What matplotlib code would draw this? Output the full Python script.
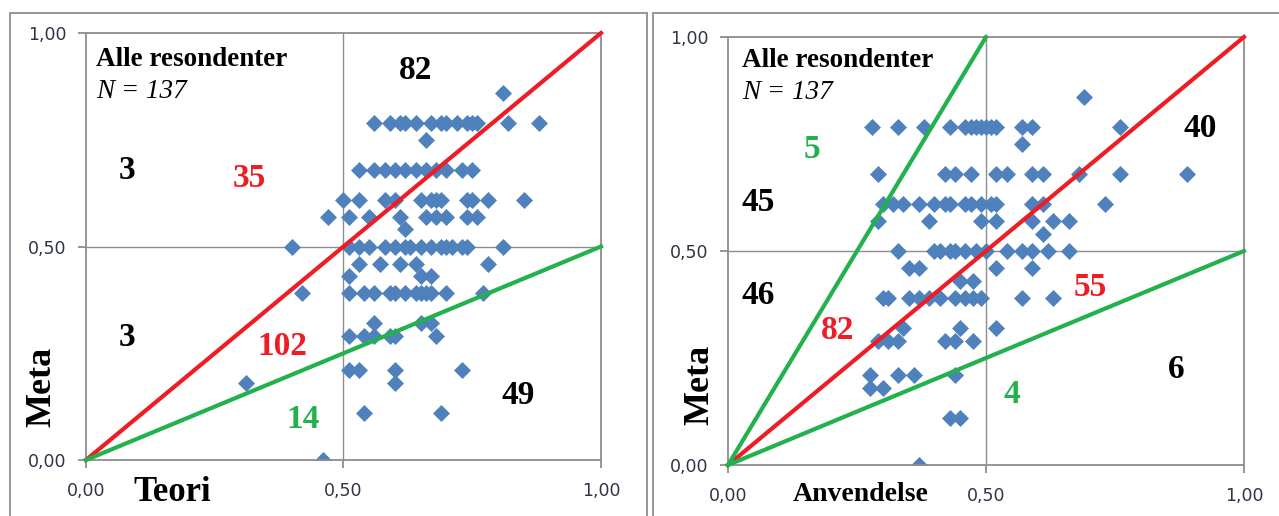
import matplotlib.pyplot as plt
from matplotlib.patches import Rectangle

# Teori mot Meta (venstre figur)
teori_x = [0.81,
           0.56, 0.59, 0.61, 0.62, 0.64, 0.67, 0.69, 0.70, 0.72, 0.74, 0.75, 0.76, 0.82, 0.88,
           0.66,
           0.53, 0.56, 0.58, 0.60, 0.62, 0.64, 0.66, 0.68, 0.70, 0.73, 0.75,
           0.50, 0.53, 0.58, 0.60, 0.65, 0.67, 0.68, 0.69, 0.74, 0.75, 0.78, 0.85,
           0.47, 0.51, 0.55, 0.61, 0.66, 0.68, 0.70, 0.74, 0.76,
           0.62,
           0.40, 0.51, 0.53, 0.55, 0.58, 0.60, 0.62, 0.63, 0.65, 0.67, 0.69, 0.70, 0.71, 0.73, 0.74, 0.81,
           0.53, 0.57, 0.61, 0.64, 0.78,
           0.51, 0.65, 0.67,
           0.42, 0.51, 0.54, 0.56, 0.59, 0.60, 0.62, 0.64, 0.65, 0.66, 0.67, 0.70, 0.77,
           0.56, 0.65, 0.67,
           0.51, 0.54, 0.56, 0.59, 0.60, 0.68,
           0.51, 0.53, 0.60, 0.73,
           0.31, 0.60,
           0.54, 0.69,
           0.46]
teori_y = ([0.86] + [0.79] * 14 + [0.75] + [0.68] * 11 + [0.61] * 12 + [0.57] * 9 + [0.54]
           + [0.50] * 16 + [0.46] * 5 + [0.43] * 3 + [0.39] * 13 + [0.32] * 3 + [0.29] * 6
           + [0.21] * 4 + [0.18] * 2 + [0.11] * 2 + [0.00])

# Anvendelse mot Meta (høyre figur)
anv_x = [0.69,
         0.28, 0.33, 0.38, 0.43, 0.46, 0.47, 0.48, 0.49, 0.50, 0.51, 0.52, 0.57, 0.59, 0.76,
         0.57,
         0.29, 0.42, 0.44, 0.47, 0.52, 0.54, 0.59, 0.61, 0.68, 0.76,
         0.30, 0.32, 0.34, 0.37, 0.40, 0.42, 0.43, 0.46, 0.47, 0.49, 0.51, 0.52, 0.59, 0.61, 0.73, 0.89,
         0.29, 0.39, 0.49, 0.52, 0.59, 0.63, 0.66,
         0.61,
         0.33, 0.40, 0.41, 0.43, 0.44, 0.46, 0.48, 0.50, 0.54, 0.57, 0.59, 0.62, 0.66,
         0.35, 0.37, 0.52, 0.59,
         0.45, 0.475,
         0.30, 0.31, 0.35, 0.37, 0.39, 0.41, 0.44, 0.46, 0.475, 0.49, 0.57, 0.63,
         0.34, 0.45, 0.52,
         0.29, 0.31, 0.33, 0.42, 0.44, 0.475,
         0.275, 0.33, 0.36, 0.44,
         0.275, 0.30,
         0.43, 0.45,
         0.37]
anv_y = ([0.86] + [0.79] * 14 + [0.75] + [0.68] * 10 + [0.61] * 15 + [0.68] + [0.57] * 7 + [0.54]
         + [0.50] * 13 + [0.46] * 4 + [0.43] * 2 + [0.39] * 12 + [0.32] * 3 + [0.29] * 6
         + [0.21] * 4 + [0.18] * 2 + [0.11] * 2 + [0.00])

# Antall i hvert felt
teori_tall = [('82', 0.639, 0.913, 'black'), ('3', 0.08, 0.679, 'black'), ('35', 0.318, 0.66, 'red'),
              ('3', 0.08, 0.286, 'black'), ('102', 0.381, 0.265, 'red'), ('14', 0.421, 0.094, 'green'),
              ('49', 0.839, 0.152, 'black')]
anv_tall = [('5', 0.163, 0.736, 'green'), ('45', 0.058, 0.614, 'black'), ('46', 0.058, 0.395, 'black'),
            ('82', 0.213, 0.315, 'red'), ('55', 0.702, 0.414, 'red'), ('40', 0.915, 0.787, 'black'),
            ('6', 0.868, 0.222, 'black'), ('4', 0.55, 0.164, 'green')]

farger = {'black': 'black', 'red': '#ee1c25', 'green': '#22b14c'}
gra = '#8e8e8e'
serif = 'Liberation Serif'


def lag_panel(ax, x, y, linjer, tall, xnavn, xnavn_str, xnavn_pos, ynavn_pos, info_pos):
    ax.set_xlim(0, 1)
    ax.set_ylim(0, 1)
    for s in ax.spines.values():
        s.set_color(gra)
        s.set_linewidth(1.3)
    ax.axvline(0.5, color=gra, lw=1.0, zorder=1)
    ax.axhline(0.5, color=gra, lw=1.0, zorder=1)
    ax.scatter(x, y, marker='D', s=75, color='#4f81bd', linewidths=0, zorder=2)
    for (x0, y0, x1, y1, farge) in linjer:
        ax.plot([x0, x1], [y0, y1], color=farger[farge], lw=3.0, zorder=3, clip_on=False)
    ax.set_xticks([0, 0.5, 1])
    ax.set_yticks([0, 0.5, 1])
    ax.set_xticklabels(['0,00', '0,50', '1,00'])
    ax.set_yticklabels(['0,00', '0,50', '1,00'])
    ax.tick_params(direction='out', length=6, width=1.3, color=gra, labelsize=12.5,
                   labelcolor='#2f3447')
    ax.tick_params(axis='x', pad=10)
    ax.tick_params(axis='y', pad=8)
    for (t, tx, ty, farge) in tall:
        ax.text(tx, ty, t, color=farger[farge], fontsize=24, fontweight='bold',
                family=serif, ha='center', va='center', transform=ax.transAxes)
    ax.text(info_pos[0], info_pos[1], 'Alle resondenter', fontsize=19.5, fontweight='bold',
            family=serif, va='center', transform=ax.transAxes)
    ax.text(info_pos[0], info_pos[1] - 0.075, 'N = 137', fontsize=19.5, style='italic',
            family=serif, va='center', transform=ax.transAxes)
    ax.text(xnavn_pos[0], xnavn_pos[1], xnavn, fontsize=xnavn_str, fontweight='bold', family=serif,
            ha='center', va='center', transform=ax.transAxes)
    ax.text(ynavn_pos[0], ynavn_pos[1], 'Meta', fontsize=26, fontweight='bold', family=serif,
            ha='center', va='center', rotation=90, transform=ax.transAxes)


fig = plt.figure(figsize=(12.79, 5.16), dpi=100)

# Rammer rundt de to figurene
fig.add_artist(Rectangle((0.0078, -0.1), 0.4981, 1.0754, transform=fig.transFigure,
                         fill=False, edgecolor=gra, lw=1.3))
fig.add_artist(Rectangle((0.5106, -0.1), 0.6, 1.0754, transform=fig.transFigure,
                         fill=False, edgecolor=gra, lw=1.3))

ax1 = fig.add_axes([0.0672, 0.1085, 0.4027, 0.8275])
lag_panel(ax1, teori_x, teori_y,
          [(0, 0, 1, 1, 'red'), (0, 0, 1, 0.5, 'green')],
          teori_tall, 'Teori', 25, (0.167, -0.075), (-0.085, 0.171), (0.019, 0.937))

ax2 = fig.add_axes([0.5692, 0.0988, 0.4034, 0.8295])
lag_panel(ax2, anv_x, anv_y,
          [(0, 0, 1, 1, 'red'), (0, 0, 0.5, 1, 'green'), (0, 0, 1, 0.5, 'green')],
          anv_tall, 'Anvendelse', 20, (0.258, -0.07), (-0.054, 0.187), (0.027, 0.946))

plt.savefig('out.png', dpi=100)
